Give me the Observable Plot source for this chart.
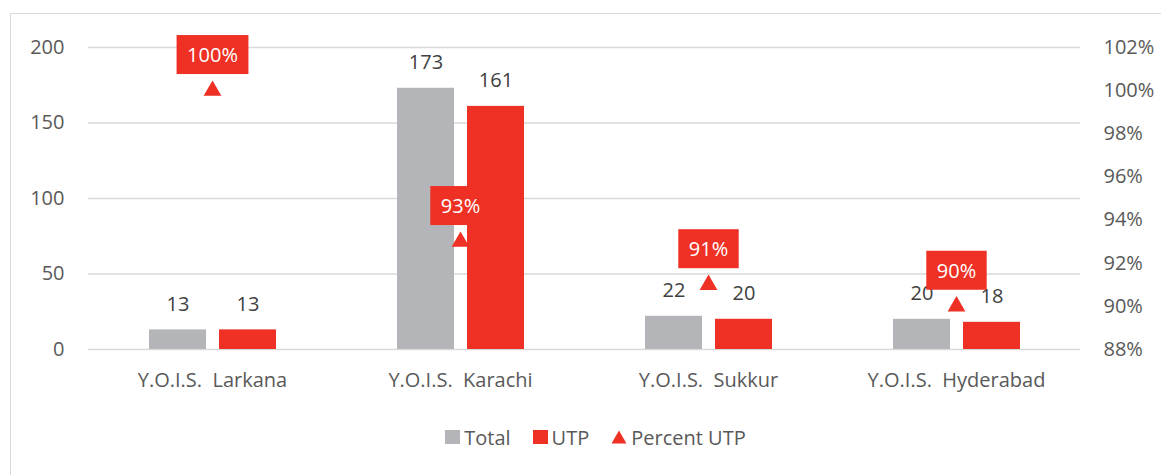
<!DOCTYPE html>
<html>
<head>
<meta charset="utf-8">
<script src="https://cdn.jsdelivr.net/npm/d3@7"></script>
<script src="https://cdn.jsdelivr.net/npm/@observablehq/plot@0.6"></script>
<style>
  html, body { margin: 0; padding: 0; background: #fff; overflow: hidden; width: 1161px; height: 475px; }
  body { position: relative; font-family: "Open Sans", "Noto Sans", sans-serif; }
  #frame { position: absolute; left: 10px; top: 13px; width: 1200px; height: 520px; border: 1px solid #d9d9d9; box-sizing: border-box; }
  #chart { position: absolute; left: 0; top: 0; width: 1161px; height: 420px; }
  #chart svg { position: absolute; left: 0; top: 0; overflow: visible; }
  #chart svg text { white-space: pre; }
  #legend { position: absolute; left: 0; top: 424px; width: 1161px; height: 26px; display: flex; justify-content: center; align-items: center; padding-left: 30px; box-sizing: border-box; font-size: 20px; color: #595959; }
  #legend .item { display: flex; align-items: center; margin: 0 11px; }
  #legend .sw { display: inline-block; width: 15px; height: 14px; margin-right: 4px; }
</style>
</head>
<body>
<div id="frame"></div>
<div id="chart"></div>
<div id="legend"></div>
<script>
const categories = ["Y.O.I.S.  Larkana", "Y.O.I.S.  Karachi", "Y.O.I.S.  Sukkur", "Y.O.I.S.  Hyderabad"];
const seriesNames = ["Total", "UTP"];
const totalValues = [13, 173, 22, 20];
const utpValues = [13, 161, 20, 18];
const percentUTP = [1.00, 0.93, 0.91, 0.90];
const leftTicks = [0, 50, 100, 150, 200];
const rightTicks = [0.88, 0.90, 0.92, 0.94, 0.96, 0.98, 1.00, 1.02];
const colors = { Total: "#b4b5b8", UTP: "#ee3124", Percent: "#ee3124" };

const W = 1161, H = 420;
const margins = { marginLeft: 87, marginRight: 81, marginTop: 47, marginBottom: 71 };
const font = { fontFamily: "Open Sans, Noto Sans, sans-serif", fontSize: "20px", color: "#595959" };

const rows = [];
categories.forEach((c, i) => {
  rows.push({ cat: c, series: "Total", value: totalValues[i] });
  rows.push({ cat: c, series: "UTP", value: utpValues[i] });
});
const pctRows = categories.map((c, i) => ({ cat: c, pct: percentUTP[i] }));

const main = Plot.plot({
  width: W, height: H, ...margins,
  style: { ...font, background: "transparent" },
  fx: { domain: categories, padding: 0, label: null, axis: "bottom", tickSize: 0, tickPadding: 23 },
  x: { domain: seriesNames, paddingInner: 0.19, paddingOuter: 0.85, axis: null },
  y: { domain: [0, 200], label: null, axis: null },
  color: { domain: seriesNames, range: [colors.Total, colors.UTP] },
  marks: [
    Plot.gridY(leftTicks, { stroke: "#d9d9d9", strokeOpacity: 1, strokeWidth: 1.5 }),
    Plot.axisY(leftTicks, { tickSize: 0, tickPadding: 24, label: null, fill: "#595959", fontSize: 20 }),
    Plot.barY(rows, { fx: "cat", x: "series", y: "value", fill: "series" }),
    Plot.text(rows, { fx: "cat", x: "series", y: "value", text: d => String(d.value), lineAnchor: "bottom", dy: -19, fill: "#404040", fontSize: 20 })
  ]
});

const overlay = Plot.plot({
  width: W, height: H, ...margins,
  style: { ...font, background: "transparent" },
  x: { type: "point", domain: categories, padding: 0.5, axis: null },
  y: { domain: [0.88, 1.02], label: null, axis: null },
  marks: [
    Plot.axisY(rightTicks, { anchor: "right", tickSize: 0, tickPadding: 23, label: null, tickFormat: d => Math.round(d * 100) + "%", fill: "#595959", fontSize: 20 }),
    Plot.dot(pctRows, { x: "cat", y: "pct", symbol: "triangle", r: 6.6, fill: colors.Percent, stroke: null }),
    Plot.text(pctRows, { x: "cat", y: "pct", text: d => Math.round(d.pct * 100) + "%", dy: -35, fill: "white", fontSize: 20, className: "pct-label" })
  ]
});

const chart = document.getElementById("chart");
chart.appendChild(main);
chart.appendChild(overlay);

// Red boxes behind the percent labels, sized from the rendered text
overlay.querySelectorAll(".pct-label text").forEach(t => {
  const b = t.getBBox();
  const padX = 10.5, padY = 6;
  const r = document.createElementNS("http://www.w3.org/2000/svg", "rect");
  const tr = t.getAttribute("transform");
  if (tr) r.setAttribute("transform", tr);
  r.setAttribute("x", b.x - padX);
  r.setAttribute("y", b.y - padY);
  r.setAttribute("width", b.width + 2 * padX);
  r.setAttribute("height", b.height + 2 * padY);
  r.setAttribute("fill", colors.Percent);
  t.parentNode.insertBefore(r, t);
});

// Legend
const legend = document.getElementById("legend");
const items = [
  { name: "Total", kind: "square", color: colors.Total },
  { name: "UTP", kind: "square", color: colors.UTP },
  { name: "Percent UTP", kind: "triangle", color: colors.Percent }
];
items.forEach(it => {
  const el = document.createElement("span");
  el.className = "item";
  if (it.kind === "square") {
    el.innerHTML = `<span class="sw" style="background:${it.color}"></span>`;
  } else {
    el.innerHTML = `<svg width="16" height="14" style="margin-right:4px"><polygon points="8,0.5 15.5,13.5 0.5,13.5" fill="${it.color}"/></svg>`;
  }
  const txt = document.createElement("span");
  txt.textContent = it.name;
  el.appendChild(txt);
  legend.appendChild(el);
});
</script>
</body>
</html>
